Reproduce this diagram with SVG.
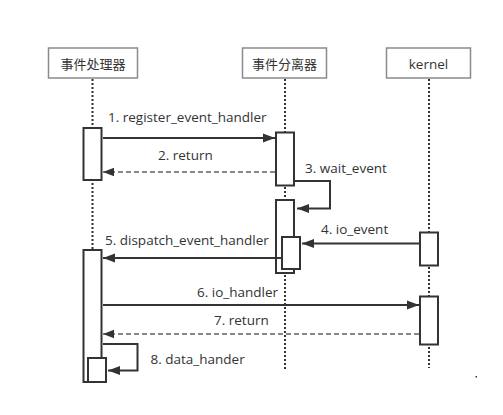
<svg xmlns="http://www.w3.org/2000/svg" width="503" height="415" viewBox="0 0 503 415">
<style>
.hdr{fill:#fff;stroke:#8a8a8a;stroke-width:1.5}
.act{fill:#fff;stroke:#333;stroke-width:2}
.life{stroke:#333;stroke-width:2;stroke-dasharray:2 2;fill:none}
.msg{stroke:#333;stroke-width:2;fill:none}
.ret{stroke:#888;stroke-width:2;stroke-dasharray:5 3;fill:none}
.cjk{font-family:"Noto Sans CJK SC","Noto Sans",sans-serif;font-size:13px;fill:#333;text-anchor:middle}
.lbl{font-family:"Open Sans","Liberation Sans",sans-serif;font-size:13.5px;fill:#333}
</style>
<defs>
<marker id="ah" markerUnits="userSpaceOnUse" markerWidth="12" markerHeight="10" refX="12" refY="5" orient="auto">
<path d="M0,0.5 L12,5 L0,9.5 Z" fill="#333"/>
</marker>
<marker id="ahr" markerUnits="userSpaceOnUse" markerWidth="11" markerHeight="10" refX="11" refY="5" orient="auto">
<path d="M0,0.8 L11,5 L0,9.2 Z" fill="#333"/>
</marker>
</defs>
<rect width="503" height="415" fill="#fff"/>
<g id="lifelines">
<line class="life" x1="92.5" y1="79" x2="92.5" y2="383"/>
<line class="life" x1="285" y1="79" x2="285" y2="369"/>
<line class="life" x1="429" y1="79" x2="429" y2="368"/>
</g>
<g id="handler">
<rect class="hdr" x="48.5" y="48" width="89" height="30"/>
<text class="cjk" x="93" y="68.5">事件处理器</text>
</g>
<g id="demux">
<rect class="hdr" x="242.5" y="48" width="84" height="30"/>
<text class="cjk" x="284.5" y="68.5">事件分离器</text>
</g>
<g id="kernel">
<rect class="hdr" x="386.5" y="48" width="84" height="30"/>
<text class="lbl" x="428.5" y="68.5" text-anchor="middle">kernel</text>
</g>
<g id="activations">
<rect class="act" x="83.5" y="128" width="18" height="52"/>
<rect class="act" x="83.5" y="250" width="18" height="132"/>
<rect class="act" x="88" y="358" width="18" height="24"/>
<rect class="act" x="276" y="132.5" width="18" height="53"/>
<rect class="act" x="276" y="200" width="18" height="73"/>
<rect class="act" x="282" y="237" width="18" height="32"/>
<rect class="act" x="420" y="232.5" width="18" height="33"/>
<rect class="act" x="420" y="296.5" width="18" height="48"/>
</g>
<g id="connectors">
<line class="msg" x1="103" y1="138" x2="275" y2="138" marker-end="url(#ah)"/>
<line class="ret" x1="275" y1="172" x2="103" y2="172" marker-end="url(#ahr)"/>
<path class="msg" d="M295,181 H330 V208.5 H297" marker-end="url(#ah)"/>
<line class="msg" x1="419" y1="243.5" x2="302" y2="243.5" marker-end="url(#ah)"/>
<line class="msg" x1="283" y1="258" x2="103" y2="258" marker-end="url(#ah)"/>
<line class="msg" x1="103" y1="305" x2="419" y2="305" marker-end="url(#ah)"/>
<line class="ret" x1="419" y1="334" x2="103" y2="334" marker-end="url(#ahr)"/>
<path class="msg" d="M103,344 H137.5 V370.5 H108" marker-end="url(#ah)"/>
</g>
<g id="labels">
<text class="lbl" x="108" y="122">1. register_event_handler</text>
<text class="lbl" x="158" y="159.5">2. return</text>
<text class="lbl" x="305" y="172.5">3. wait_event</text>
<text class="lbl" x="321" y="233.5">4. io_event</text>
<text class="lbl" x="105" y="245">5. dispatch_event_handler</text>
<text class="lbl" x="278" y="297" text-anchor="end">6. io_handler</text>
<text class="lbl" x="214" y="325">7. return</text>
<text class="lbl" x="150.5" y="364">8. data_hander</text>
</g>
<rect x="475.5" y="376" width="1.5" height="1.5" fill="#333"/>
</svg>
